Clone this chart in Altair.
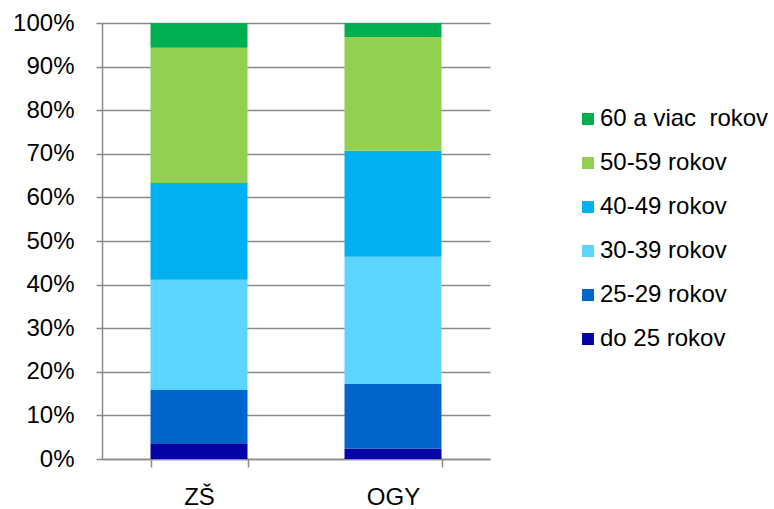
import altair as alt
import pandas as pd

# Share of teachers by age group, per school type (percent)
schools = ["ZŠ", "OGY"]
age_groups = ["do 25 rokov", "25-29 rokov", "30-39 rokov", "40-49 rokov", "50-59 rokov", "60 a viac\u00a0 rokov"]
zs_values = [3.6, 12.2, 25.3, 22.2, 31.0, 5.7]
ogy_values = [2.4, 14.8, 29.2, 24.3, 26.1, 3.2]
group_colors = ["#0505A5", "#0066CC", "#5BD4FF", "#00B0F0", "#92D050", "#00B050"]

rows = []
for school, values in zip(schools, [zs_values, ogy_values]):
    for i, (group, v) in enumerate(zip(age_groups, values)):
        rows.append({"school": school, "group": group, "share": v / 100.0, "stack_idx": i})
df = pd.DataFrame(rows)

font = "Liberation Sans"
grid_gray = "#8a8a8a"

# legend lists the oldest group first
legend_order = age_groups[::-1]
legend_colors = group_colors[::-1]

bars = alt.Chart(df).mark_bar(size=97).encode(
    x=alt.X(
        "school:N",
        sort=schools,
        title=None,
        scale=alt.Scale(paddingInner=0.5, paddingOuter=0.25),
        axis=alt.Axis(
            labelAngle=0,
            labelFont=font,
            labelFontSize=24,
            labelColor="#000000",
            labelPadding=18,
            tickBand="extent",
            tickSize=8,
            tickColor=grid_gray,
            tickWidth=1.5,
            domainColor=grid_gray,
            domainWidth=1.5,
            grid=False,
        ),
    ),
    y=alt.Y(
        "sum(share):Q",
        stack="zero",
        title=None,
        scale=alt.Scale(domain=[0, 1], nice=False),
        axis=alt.Axis(
            format=".0%",
            values=[i / 10 for i in range(11)],
            labelFont=font,
            labelFontSize=24,
            labelColor="#000000",
            labelPadding=22,
            tickSize=6,
            tickColor=grid_gray,
            tickWidth=1.5,
            domainColor=grid_gray,
            domainWidth=1.5,
            grid=True,
            gridColor=grid_gray,
            gridWidth=1.5,
        ),
    ),
    color=alt.Color(
        "group:N",
        scale=alt.Scale(domain=legend_order, range=legend_colors),
        legend=alt.Legend(
            title=None,
            orient="none",
            legendX=474,
            legendY=84,
            symbolType="square",
            symbolSize=144,
            symbolStrokeWidth=0,
            labelFont=font,
            labelFontSize=24,
            labelColor="#000000",
            labelOffset=0,
            labelLimit=300,
            rowPadding=20,
        ),
    ),
    order=alt.Order("stack_idx:Q", sort="ascending"),
)

chart = bars.properties(
    width=388,
    height=436,
    autosize=alt.AutoSizeParams(type="none"),
    padding={"left": 102, "top": 23, "right": 284, "bottom": 50},
    background="#ffffff",
).configure_view(stroke=None)

chart.save("out.html", embed_options={"renderer": "svg", "actions": False})
